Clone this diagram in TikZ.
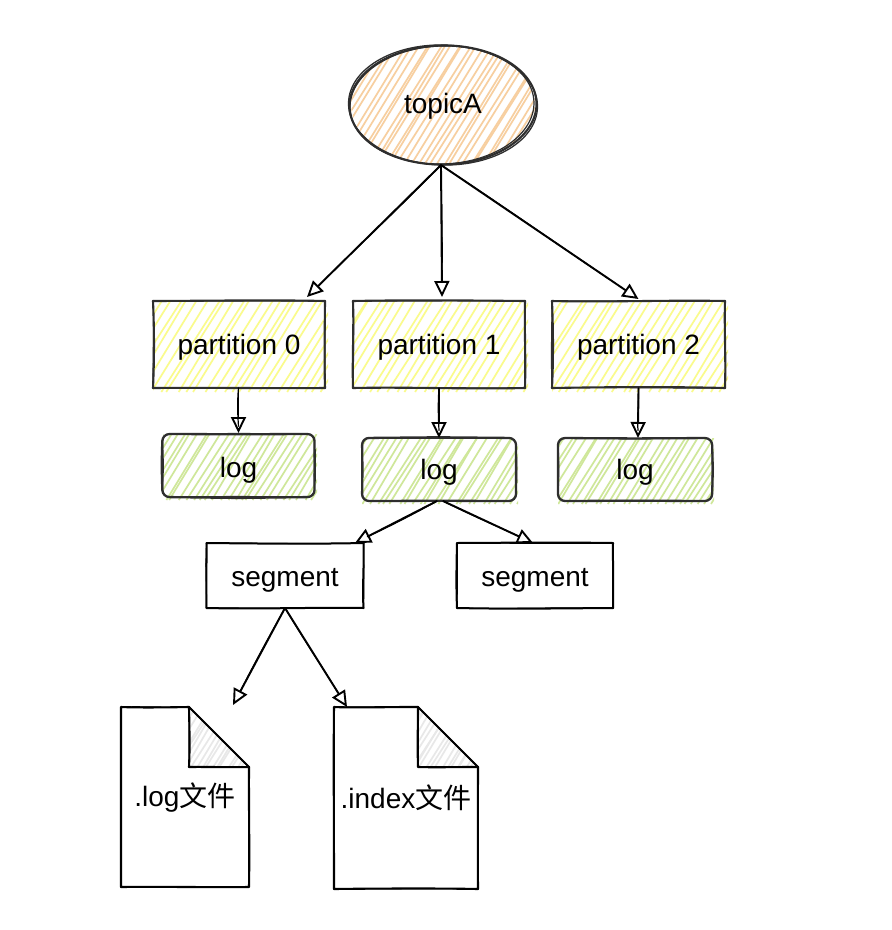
\documentclass[tikz,border=0pt]{standalone}
\usepackage{fontspec}
\setmainfont{Liberation Sans}
\newfontfamily\cjk{Noto Sans CJK SC}
\usetikzlibrary{arrows.meta,calc,shapes.geometric}
\definecolor{ink}{HTML}{2E2E2E}
\definecolor{hOrange}{HTML}{F7CFA0}
\definecolor{hYellow}{HTML}{FAFB8C}
\definecolor{hGreen}{HTML}{CFE79A}
\definecolor{hGrey}{HTML}{E8E8E8}
\tikzset{
  lbl/.style={font=\fontsize{28}{30}\selectfont,text=black,inner sep=0pt,outer sep=0pt},
  boxnode/.style={lbl,rectangle,minimum width=#1},
  skline/.style={draw=ink,line width=2.1pt,line cap=round,line join=round},
  inkline/.style={draw=black,line width=2pt,line cap=round,line join=round},
  conn/.style={draw=black,line width=1.9pt,-{Triangle[open,fill=white,length=16pt,width=15pt]}},
  connb/.style={draw=black,line width=1.2pt,line cap=round},
}
% x1 y1 x2 y2 colour spacing
\newcommand{\hatchlines}[6]{%
  \pgfmathsetmacro{\hatchS}{0.62*(#4-#2)}%
  \pgfmathtruncatemacro{\hatchN}{(#3-#1+\hatchS)/#6}%
  \foreach \hatchI in {0,...,\hatchN}{%
    \pgfmathsetmacro{\hatchB}{#1-\hatchS+\hatchI*#6+rand*2.5}%
    \pgfmathsetmacro{\hatchT}{\hatchB+\hatchS+rand*2.5}%
    \draw[draw=#5,line width=1.7pt] (\hatchB,#4) -- (\hatchT,#2);
  }%
}
\newcommand{\wob}[3][skline]{%
  \draw[#1] (#2) .. controls ($(#2)!0.33!(#3)+(rand*1.4,rand*1.4)$) and ($(#2)!0.66!(#3)+(rand*1.4,rand*1.4)$) .. (#3);%
}
\newcommand{\rectsketch}[2][skline]{%
  \wob[#1]{#2.north west}{#2.north east}\wob[#1]{#2.north east}{#2.south east}%
  \wob[#1]{#2.south east}{#2.south west}\wob[#1]{#2.south west}{#2.north west}%
  \wob[#1,line width=1pt]{#2.north west}{#2.north east}\wob[#1,line width=1pt]{#2.north east}{#2.south east}%
  \wob[#1,line width=1pt]{#2.south east}{#2.south west}\wob[#1,line width=1pt]{#2.south west}{#2.north west}%
}
\newcommand{\roundsketch}[1]{%
  \foreach \passW in {2.3,1.1}{%
  \draw[skline,line width=\passW pt,rounded corners=7pt]
    (#1.north west) -- ($(#1.north)+(rand*1,rand*1)$) -- (#1.north east)
    -- ($(#1.east)+(rand*1,rand*1)$) -- (#1.south east)
    -- ($(#1.south)+(rand*1,rand*1)$) -- (#1.south west)
    -- ($(#1.west)+(rand*1,rand*1)$) -- cycle;
  }%
}
\newcommand{\conn}[2]{%
  \draw[conn] (#1) -- (#2);
  \draw[connb] (#1) .. controls ($(#1)!0.35!(#2)+(rand*1.5,rand*1.5)$) and ($(#1)!0.65!(#2)+(rand*1.5,rand*1.5)$) .. ($(#1)!0.85!(#2)$);
}
\newcommand{\filepage}[6]{% left top foldx foldy right bottom
  \begin{scope}
    \clip (#3,#2) -- (#5,#4) -- (#3,#4) -- cycle;
    \hatchlines{#3}{#2}{#5}{#4}{hGrey}{5}
  \end{scope}
  \foreach \passW in {2.1,1.1}{%
    \draw[inkline,line width=\passW pt] (#1,#2)
      .. controls (#1+20,#2+rand*1) and (#3-20,#2+rand*1) .. (#3,#2)
      -- (#5,#4)
      .. controls (#5+rand*1,#4+40) and (#5+rand*1,#6-40) .. (#5,#6)
      .. controls (#5-40,#6+rand*1) and (#1+40,#6+rand*1) .. (#1,#6)
      .. controls (#1+rand*1,#6-40) and (#1+rand*1,#2+40) .. (#1,#2);
    \draw[inkline,line width=\passW pt] (#3,#2)
      .. controls (#3+rand*1,#2+20) and (#3+rand*1,#4-20) .. (#3,#4)
      .. controls (#3+20,#4+rand*1) and (#5-20,#4+rand*1) .. (#5,#4);
  }%
}
\begin{document}
\begin{tikzpicture}[x=1pt,y=-1pt]
\pgfmathsetseed{4217}
\useasboundingbox (0,0) rectangle (892,930);
\fill[white] (0,0) rectangle (892,930);
% hachures
\begin{scope}
  \clip (443,105) ellipse [x radius=92,y radius=59];
  \hatchlines{348}{45}{537}{165}{hOrange}{6.5}
\end{scope}
\begin{scope}\clip (153,301) rectangle (328,392);\hatchlines{153}{301}{328}{392}{hYellow}{9}\end{scope}
\begin{scope}\clip (353,301) rectangle (528,392);\hatchlines{353}{301}{528}{392}{hYellow}{9}\end{scope}
\begin{scope}\clip (552,301) rectangle (728,392);\hatchlines{552}{301}{728}{392}{hYellow}{9}\end{scope}
\begin{scope}\clip (163,434) rectangle (317,500);\hatchlines{163}{434}{317}{500}{hGreen}{7}\end{scope}
\begin{scope}\clip (362,438) rectangle (518,504);\hatchlines{362}{438}{518}{504}{hGreen}{7}\end{scope}
\begin{scope}\clip (558,438) rectangle (714,504);\hatchlines{558}{438}{714}{504}{hGreen}{7}\end{scope}
% nodes
\node[lbl,ellipse,minimum width=188pt,minimum height=120pt,text height=22pt,text depth=6pt] (topic) at (443,105) {topicA};
\node[boxnode=172pt,minimum height=87pt,text height=22pt,text depth=3pt] (p0) at (239,344.5) {partition 0};
\node[boxnode=172pt,minimum height=87pt,text height=22pt,text depth=3pt] (p1) at (439,344.5) {partition 1};
\node[boxnode=173pt,minimum height=87pt,text height=22pt,text depth=3pt] (p2) at (638.5,344.5) {partition 2};
\node[boxnode=152pt,minimum height=63pt,text height=26pt,text depth=3pt] (log0) at (238.5,465.5) {log};
\node[boxnode=154pt,minimum height=63pt,text height=23pt,text depth=3pt] (log1) at (439,469.5) {log};
\node[boxnode=154pt,minimum height=63pt,text height=23pt,text depth=3pt] (log2) at (635,469.5) {log};
\node[boxnode=157pt,minimum height=65pt,text height=24pt,text depth=3pt] (seg0) at (285,575.5) {segment};
\node[boxnode=156pt,minimum height=65pt,text height=24pt,text depth=3pt] (seg1) at (535,575.5) {segment};
\node[boxnode=128pt,minimum height=180pt,text height=21pt,text depth=3pt] (f0) at (185,797) {.log{\cjk 文件}};
\node[boxnode=144pt,minimum height=182pt,text height=23pt,text depth=3pt] (f1) at (406,798) {.index{\cjk 文件}};
% outlines
\draw[skline] (topic.center) ellipse [x radius=93.5,y radius=59.5,rotate=1];
\draw[skline,line width=1.3pt] (topic.center) ellipse [x radius=94.5,y radius=60,rotate=-1.5];
\draw[skline,line width=1.2pt] ([xshift=-1pt]topic.center) ellipse [x radius=92,y radius=59,rotate=2];
\rectsketch{p0}\rectsketch{p1}\rectsketch{p2}
\roundsketch{log0}\roundsketch{log1}\roundsketch{log2}
\rectsketch[inkline]{seg0}\rectsketch[inkline]{seg1}
\filepage{121}{707}{189}{767}{249}{887}
\filepage{334}{707}{418}{767}{478}{889}
% connector ends
\coordinate (topout) at ([xshift=-2pt]topic.south);
\coordinate (p0in) at ([xshift=68pt,yshift=4pt]p0.north);
\coordinate (p1in) at ([xshift=3pt,yshift=4pt]p1.north);
\coordinate (p2in) at ([yshift=2pt]p2.north);
\coordinate (l0out) at ([xshift=-0.5pt]p0.south);
\coordinate (l0in) at ([yshift=1pt]log0.north);
\coordinate (l2in) at ([xshift=3pt]log2.north);
\coordinate (l2out) at (p2.south);
\coordinate (s0out) at ([xshift=-2pt]log1.south);
\coordinate (s1out) at ([xshift=4pt]log1.south);
\coordinate (s0in) at ([xshift=70pt]seg0.north);
\coordinate (s1in) at ([xshift=-2pt]seg1.north);
\coordinate (f0free) at (233,705);
\coordinate (f1in) at ([xshift=-59pt]f1.north);
\conn{topout}{p0in}
\conn{topout}{p1in}
\conn{topout}{p2in}
\conn{l0out}{l0in}
\conn{p1.south}{log1.north}
\conn{l2out}{l2in}
\conn{s0out}{s0in}
\conn{s1out}{s1in}
\conn{seg0.south}{f0free}
\conn{seg0.south}{f1in}
\end{tikzpicture}
\end{document}
